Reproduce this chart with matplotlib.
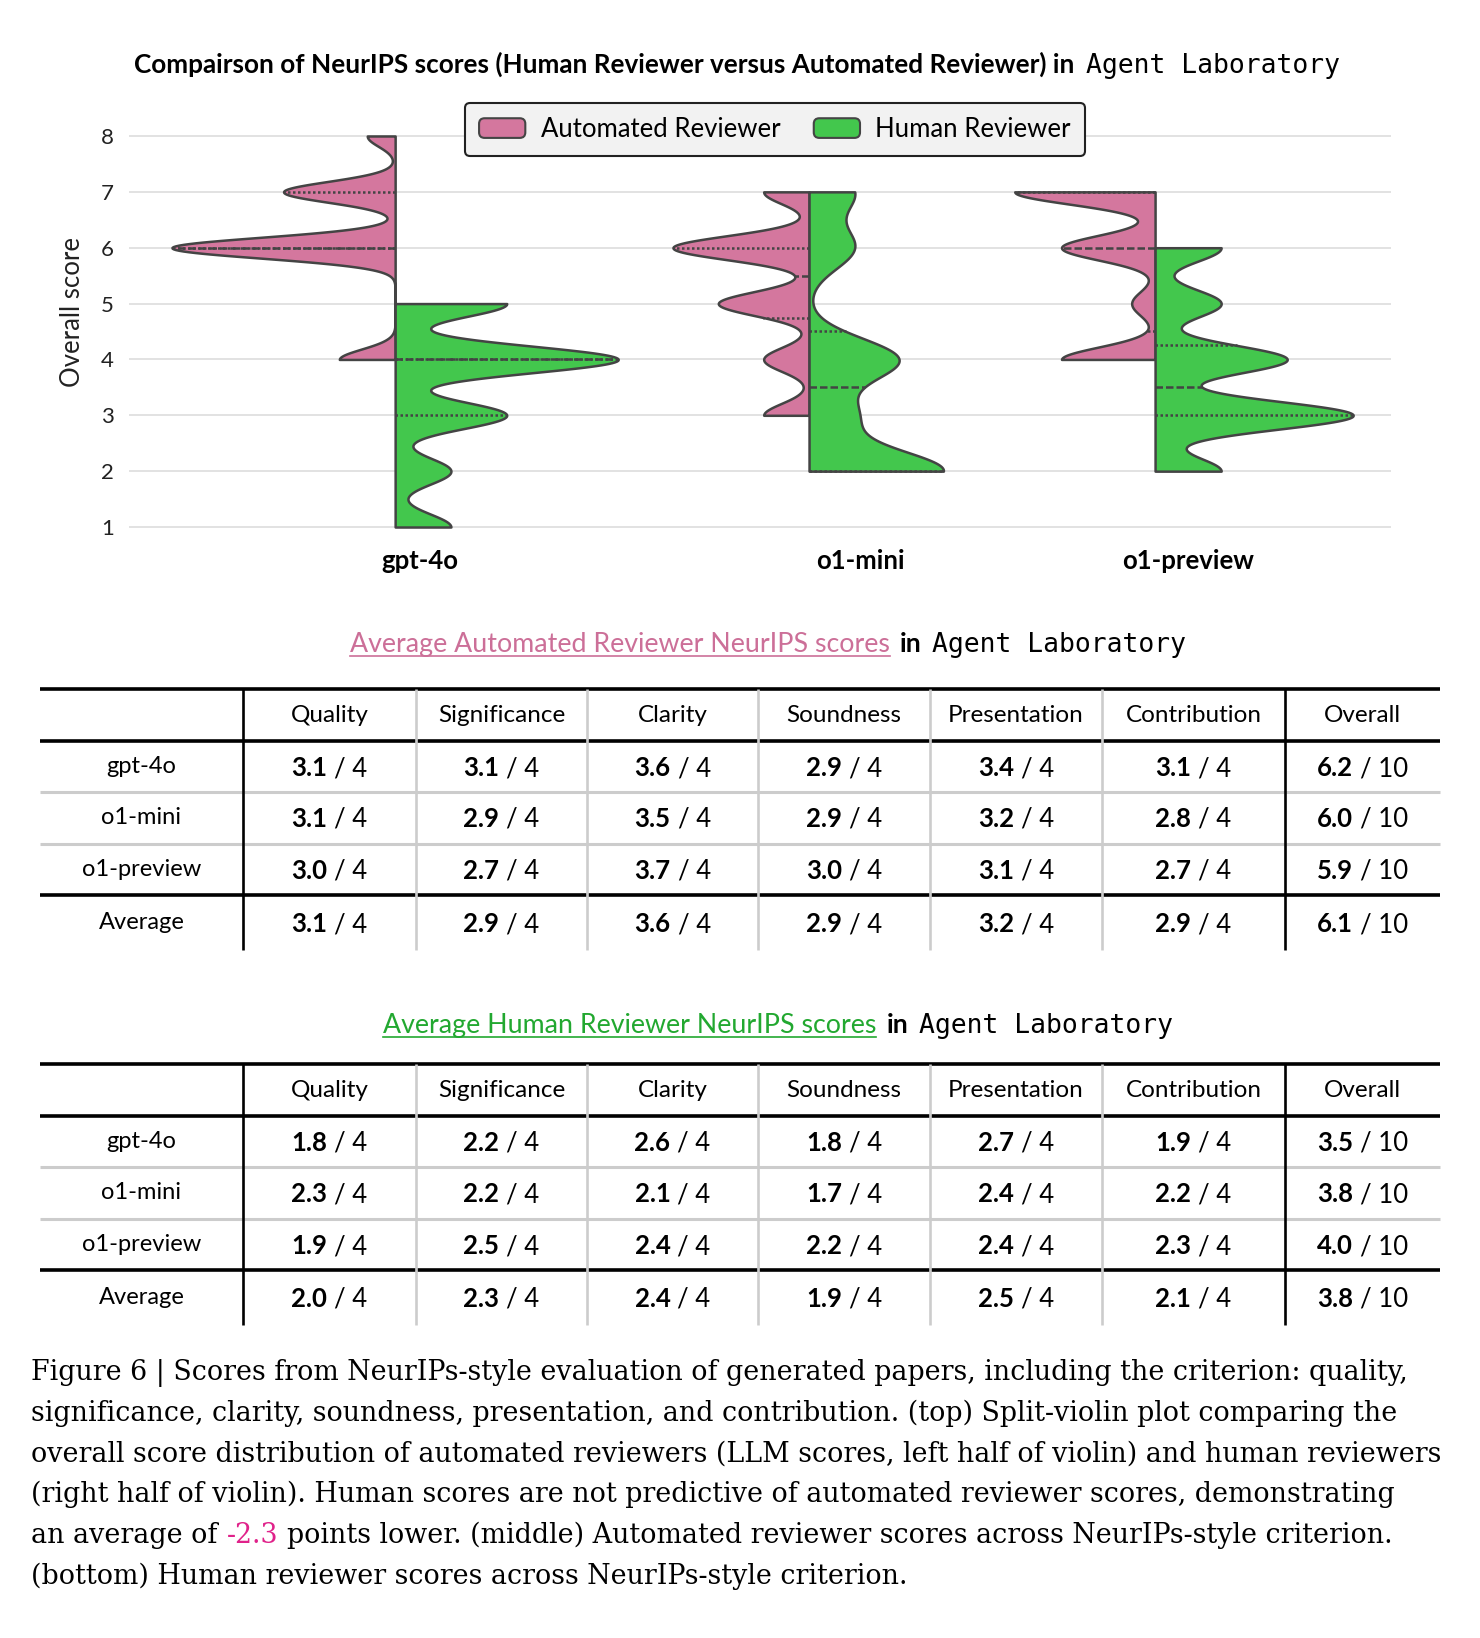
import numpy as np
import matplotlib
matplotlib.use("Agg")
import matplotlib.pyplot as plt
from matplotlib.patches import FancyBboxPatch, Patch
from matplotlib.legend_handler import HandlerPatch

W, H = 1480, 1638

models = ["gpt-4o", "o1-mini", "o1-preview"]
criteria = ["Quality", "Significance", "Clarity", "Soundness", "Presentation", "Contribution", "Overall"]
max_scores = [4, 4, 4, 4, 4, 4, 10]

# overall scores behind the split violins (estimated from the density peaks)
auto_overall_gpt4o = [4, 4, 6, 6, 6, 6, 6, 6, 6, 6, 7, 7, 7, 7, 8]
auto_overall_o1mini = [3, 3, 4, 4, 5, 5, 5, 5, 6, 6, 6, 6, 6, 6, 7, 7]
auto_overall_o1preview = [4, 4, 4, 4, 5, 6, 6, 6, 6, 7, 7, 7, 7, 7, 7]
human_overall_gpt4o = [1, 2, 3, 3, 4, 4, 4, 4, 5, 5]
human_overall_o1mini = [2, 2, 2, 3, 4, 4, 6, 7]
human_overall_o1preview = [2, 3, 3, 3, 4, 4, 5, 6]

# table values
auto_gpt4o = [3.1, 3.1, 3.6, 2.9, 3.4, 3.1, 6.2]
auto_o1mini = [3.1, 2.9, 3.5, 2.9, 3.2, 2.8, 6.0]
auto_o1preview = [3.0, 2.7, 3.7, 3.0, 3.1, 2.7, 5.9]
auto_average = [3.1, 2.9, 3.6, 2.9, 3.2, 2.9, 6.1]
human_gpt4o = [1.8, 2.2, 2.6, 1.8, 2.7, 1.9, 3.5]
human_o1mini = [2.3, 2.2, 2.1, 1.7, 2.4, 2.2, 3.8]
human_o1preview = [1.9, 2.5, 2.4, 2.2, 2.4, 2.3, 4.0]
human_average = [2.0, 2.3, 2.4, 1.9, 2.5, 2.1, 3.8]

PINK = "#d4779e"
GREEN = "#43c74d"
EDGE = "#444444"
SANS = "Lato"
MONO = "DejaVu Sans Mono"
SERIF = "DejaVu Serif"

fig = plt.figure(figsize=(W / 100, H / 100), dpi=100)
bg = fig.add_axes([0, 0, 1, 1])
bg.set_xlim(0, W)
bg.set_ylim(H, 0)
bg.axis("off")

# ---------------- violin plot ----------------
ax = fig.add_axes([129 / W, 1 - 535.4 / H, (1391 - 129) / W, (535.4 - 127.6) / H])
ax.set_xlim(-0.643, 2.406)
ax.set_ylim(0.85, 8.15)
positions = [0, 1, 1.836]
label_pos = [0.06, 1.125, 1.915]
half_max = 0.539
bw_adjust = 0.3


def kde(values):
    v = np.asarray(values, float)
    n = len(v)
    bw = v.std(ddof=1) * n ** (-1 / 5) * bw_adjust
    grid = np.linspace(v.min(), v.max(), 300)
    dens = np.exp(-0.5 * ((grid[:, None] - v[None, :]) / bw) ** 2).sum(1) / (n * bw * np.sqrt(2 * np.pi))
    return grid, dens


auto_sets = [auto_overall_gpt4o, auto_overall_o1mini, auto_overall_o1preview]
human_sets = [human_overall_gpt4o, human_overall_o1mini, human_overall_o1preview]

for sets, side, color in [(auto_sets, -1, PINK), (human_sets, 1, GREEN)]:
    kdes = [kde(s) for s in sets]
    dmax = max(d.max() for _, d in kdes)
    for pos, s, (grid, dens) in zip(positions, sets, kdes):
        w = dens / dmax * half_max
        ax.fill_betweenx(grid, pos, pos + side * w, facecolor=color, edgecolor=EDGE, lw=1.8, zorder=3)
        q1, med, q3 = np.percentile(s, [25, 50, 75])
        for q, ls in [(q1, (0, (1, 1))), (med, (0, (3, 1.2))), (q3, (0, (1, 1)))]:
            wq = np.interp(q, grid, w)
            ax.plot([pos, pos + side * wq], [q, q], color=EDGE, lw=1.8, ls=ls, zorder=4)

ax.set_yticks(range(1, 9))
ax.grid(axis="y", color="#dddddd", lw=1.2, zorder=0)
ax.set_axisbelow(True)
for sp in ax.spines.values():
    sp.set_visible(False)
ax.tick_params(axis="both", length=0)
ax.tick_params(axis="y", pad=11, labelsize=16)
for lab in ax.get_yticklabels():
    lab.set_fontfamily(SANS)
    lab.set_color("#222222")
ax.set_xticks(label_pos)
ax.set_xticklabels(models, fontfamily=SANS, fontweight="bold", fontsize=18.5)
ax.tick_params(axis="x", pad=10)
ax.set_ylabel("Overall score", fontfamily=SANS, fontsize=18.5, color="#222222")
ax.yaxis.set_label_coords(-0.035, 0.548)


def rounded_patch(legend, orig_handle, xdescent, ydescent, width, height, fontsize):
    return FancyBboxPatch((-xdescent, -ydescent), width, height, boxstyle="round,pad=0,rounding_size=4")


handles = [Patch(facecolor=PINK, edgecolor=EDGE, lw=1.5, label="Automated Reviewer"),
           Patch(facecolor=GREEN, edgecolor=EDGE, lw=1.5, label="Human Reviewer")]
leg = fig.legend(handles=handles, loc="center", bbox_to_anchor=(775 / W, 1 - 129.5 / H), ncol=2,
                 prop={"family": SANS, "size": 18.5}, frameon=True, fancybox=True,
                 handlelength=1.8, handleheight=0.8, handletextpad=0.6, columnspacing=1.3,
                 borderpad=0.55, handler_map={Patch: HandlerPatch(patch_func=rounded_patch)})
leg.get_frame().set_edgecolor("#222222")
leg.get_frame().set_facecolor("#f2f2f2")
leg.get_frame().set_linewidth(1.5)
leg.get_frame().set_alpha(1)

# ---------------- rich text helper ----------------
groups = []


def rich(x, y, parts, gaps, size, ha="center"):
    ts = []
    for s, kw in parts:
        kw = dict(kw)
        kw.setdefault("family", SANS)
        ts.append(bg.text(0, y, s, fontsize=kw.pop("size", size), va="baseline", ha="left", **kw))
    groups.append((x, ha, ts, gaps))
    return ts


underlines = []

# title
rich(737, 73, [("Compairson of NeurIPS scores (Human Reviewer versus Automated Reviewer) in", {"weight": "bold"}),
               ("Agent Laboratory", {"family": MONO, "size": 19})], [11], 18.8)

# ---------------- tables ----------------
col_edges = [40, 243, 416, 587, 758, 930, 1102, 1285, 1440]
col_centers = [(a + b) / 2 for a, b in zip(col_edges[:-1], col_edges[1:])]


def draw_table(top, title_x, title_y, title, title_color, rows):
    ts = rich(title_x, title_y, [(title, {"color": title_color}), ("in", {"weight": "bold"}),
                                 ("Agent Laboratory", {"family": MONO, "size": 19})], [10, 11], 19.3)
    underlines.append((ts[0], title_color))
    # horizontal rules
    for dy, col, lw in [(0, "black", 2.6), (52, "black", 2.6), (206, "black", 2.6),
                        (103, "#cccccc", 2.2), (155, "#cccccc", 2.2)]:
        bg.plot([40, 1440], [top + dy, top + dy], color=col, lw=lw, solid_capstyle="butt")
    for i, x in enumerate(col_edges[1:-1]):
        col = "black" if i in (0, 6) else "#cccccc"
        bg.plot([x, x], [top, top + 261], color=col, lw=1.9, solid_capstyle="butt")
    for c, name in zip(col_centers[1:], criteria):
        bg.text(c, top + 26 + 7, name, fontsize=17.5, family=SANS, ha="center", va="baseline")
    row_y = [78, 129, 181, 234]
    for (label, vals), dy in zip(rows, row_y):
        bg.text(col_centers[0], top + dy + 6, label, fontsize=17, family=SANS, ha="center", va="baseline")
        for c, v, m in zip(col_centers[1:], vals, max_scores):
            rich(c, top + dy + 9, [(f"{v:.1f}", {"weight": "bold"}), (f"/ {m}", {})], [7], 18.5)


draw_table(689, 768, 652, "Average Automated Reviewer NeurIPS scores", "#cc6f98",
           [("gpt-4o", auto_gpt4o), ("o1-mini", auto_o1mini), ("o1-preview", auto_o1preview),
            ("Average", auto_average)])
draw_table(1064, 778, 1033, "Average Human Reviewer NeurIPS scores", "#22a830",
           [("gpt-4o", human_gpt4o), ("o1-mini", human_o1mini), ("o1-preview", human_o1preview),
            ("Average", human_average)])

# ---------------- caption ----------------
cap_size = 19.4
cap_lines = [
    "Figure 6 | Scores from NeurIPs-style evaluation of generated papers, including the criterion: quality,",
    "significance, clarity, soundness, presentation, and contribution. (top) Split-violin plot comparing the",
    "overall score distribution of automated reviewers (LLM scores, left half of violin) and human reviewers",
    "(right half of violin). Human scores are not predictive of automated reviewer scores, demonstrating",
    None,
    "(bottom) Human reviewer scores across NeurIPs-style criterion.",
]
base = 1380
for i, line in enumerate(cap_lines):
    y = base + i * 40.8
    if line is None:
        rich(31, y, [("an average of", {"family": SERIF}), ("-2.3", {"family": SERIF, "color": "#e0228a"}),
                     ("points lower. (middle) Automated reviewer scores across NeurIPs-style criterion.",
                      {"family": SERIF})], [9, 9], cap_size, ha="left")
    else:
        bg.text(31, y, line, fontsize=cap_size, family=SERIF, ha="left", va="baseline")

# lay out the multi-font pieces
fig.canvas.draw()
renderer = fig.canvas.get_renderer()
for x, ha, ts, gaps in groups:
    widths = [t.get_window_extent(renderer).width for t in ts]
    total = sum(widths) + sum(gaps)
    cur = x - total / 2 if ha == "center" else x
    for t, w, g in zip(ts, widths, [0] + gaps):
        cur += g
        t.set_x(cur)
        cur += w
fig.canvas.draw()
for t, col in underlines:
    bb = t.get_window_extent(renderer)
    y = t.get_position()[1] + 4
    bg.plot([bb.x0, bb.x1], [y, y], color=col, lw=1.2)

fig.savefig("out.png", dpi=100)
